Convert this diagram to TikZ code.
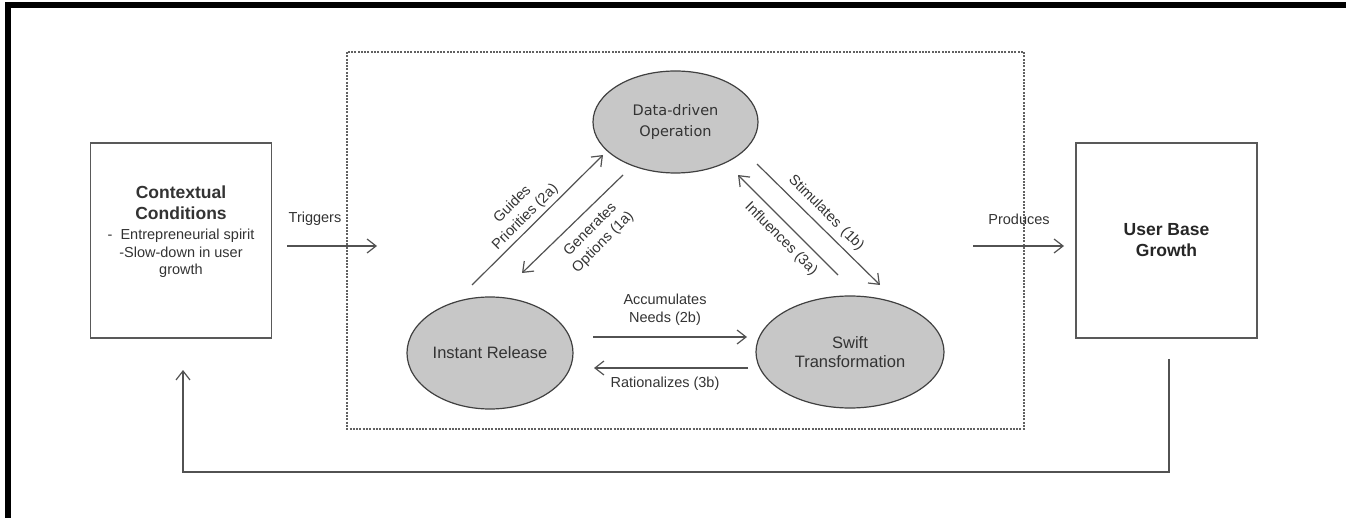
\documentclass[tikz,border=0pt]{standalone}
\usepackage{fontspec}
\setmainfont{Liberation Sans}
\newfontfamily\ddfont{DejaVu Sans}
\usetikzlibrary{arrows.meta,positioning,shapes.geometric}

\begin{document}
\begin{tikzpicture}[x=1pt,y=-1pt,
		line/.style={draw=black!68,line width=1.2pt},
		flow/.style={line,-{Straight Barb[length=9pt,width=14pt]}},
		box/.style={draw=black!65,line width=1.4pt,minimum width=181pt,minimum height=195pt,inner sep=0pt},
		phase/.style={ellipse,draw=black!75,line width=1.2pt,fill=black!22,inner sep=0pt,align=center,text=black!80,font=\fontsize{16.5}{19}\selectfont},
		lbl/.style={align=center,text=black!80,font=\fontsize{14.5}{18}\selectfont,inner sep=0pt}]
			%%%%% START %%%%%
			
			\useasboundingbox (0,0) rectangle (1346,518);
			\fill[black] (5,2) rectangle (1346,8);
			\fill[black] (5,2) rectangle (11,518);
			
			\node[box] (ctx) at (181,240.5) {};
			\node[lbl,font=\bfseries\fontsize{17.5}{21}\selectfont] (ctxhead) at (181,202.5) {Contextual\\Conditions};
			\node[lbl,font=\fontsize{14.5}{17.5}\selectfont] (ctxtext) at (181,253.5) {- \ Entrepreneurial spirit\\-Slow-down in user\\growth};
			\node[box,text=black!85,font=\bfseries\fontsize{17.5}{21}\selectfont,align=center] (ubg) at (1166.5,240.5) {User Base\\Growth};
			
			\draw[draw=black!62,line width=1.3pt,dash pattern=on 2pt off 1.3pt] (347,52) rectangle (1024,429);
			
			\node[phase,minimum width=165pt,minimum height=102pt,font=\ddfont\fontsize{14.5}{21}\selectfont] (ddo) at (675.5,122) {Data-driven\\Operation};
			\node[phase,minimum width=166pt,minimum height=112pt] (ir) at (490,353) {Instant Release};
			\node[phase,minimum width=188pt,minimum height=112pt] (sw) at (850,352) {Swift\\Transformation};
			
			% left and right connectors
			\coordinate (trg1) at (287,246);
			\coordinate (trg2) at (377,246);
			\draw[flow] (trg1) -- (trg2);
			\node[lbl] (trg) at (315,219) {Triggers};
			
			\coordinate (prd1) at (973,246);
			\coordinate (prd2) at (1064,246);
			\draw[flow] (prd1) -- (prd2);
			\node[lbl] (prd) at (1019,219) {Produces};
			
			% triangle
			\coordinate (gp1) at (472,285);
			\coordinate (gp2) at (603,155);
			\draw[flow] (gp1) -- (gp2);
			\node[lbl,rotate=45] (gp) at (519,211) {Guides\\Priorities (2a)};
			
			\coordinate (go1) at (623,175);
			\coordinate (go2) at (522,273);
			\draw[flow] (go1) -- (go2);
			\node[lbl,rotate=45] (go) at (597,236) {Generates\\Options (1a)};
			
			\coordinate (st1) at (757,164);
			\coordinate (st2) at (880,285);
			\draw[flow] (st1) -- (st2);
			\node[lbl,rotate=-45] (st) at (826,213) {Stimulates\, (1b)};
			
			\coordinate (in1) at (838,275);
			\coordinate (in2) at (738,175);
			\draw[flow] (in1) -- (in2);
			\node[lbl,rotate=-45] (inf) at (781,239) {Influences (3a)};
			
			\coordinate (ac1) at (593,337);
			\coordinate (ac2) at (747,337);
			\draw[flow] (ac1) -- (ac2);
			\node[lbl] (ac) at (665,310) {Accumulates\\Needs (2b)};
			
			\coordinate (ra1) at (748,368);
			\coordinate (ra2) at (594,368);
			\draw[flow] (ra1) -- (ra2);
			\node[lbl] (ra) at (665,384) {Rationalizes (3b)};
			
			% feedback loop
			\coordinate (fb1) at (1169,359);
			\coordinate (fb2) at (183,370);
			\draw[flow] (fb1) -- (1169,472) -| (fb2);
			
			%%%%% END %%%%%
		\end{tikzpicture}
\end{document}
